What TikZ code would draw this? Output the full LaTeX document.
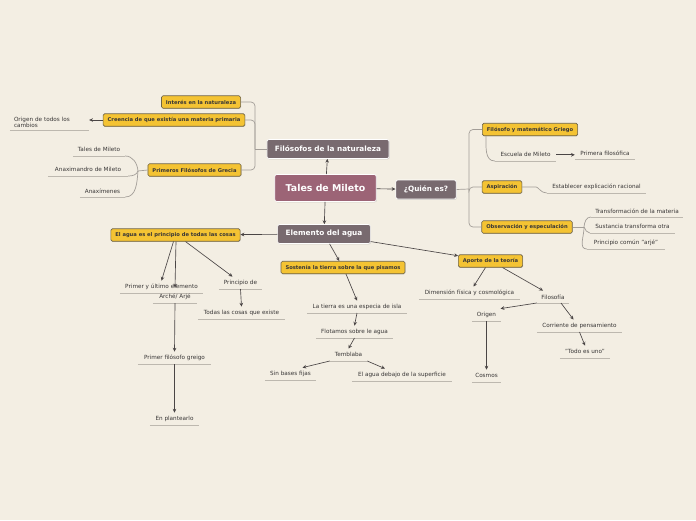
\documentclass[tikz,border=0pt]{standalone}
\usepackage{fontspec}
\setmainfont{DejaVu Sans}
\usetikzlibrary{arrows.meta,shadows}
\definecolor{bgcol}{HTML}{F3EEE3}
\definecolor{yelcol}{HTML}{F4C333}
\definecolor{yeldraw}{HTML}{6E6347}
\definecolor{greycol}{HTML}{786A6F}
\definecolor{rootcol}{HTML}{9C6476}
\definecolor{txtcol}{HTML}{383636}
\definecolor{arrcol}{HTML}{4A4545}
\definecolor{brkcol}{HTML}{A39E98}
\definecolor{ulcol}{HTML}{BDB8AF}
\tikzset{rootbox/.style={draw=white,line width=0.8pt,fill=rootcol,rounded corners=2pt,text=white,inner xsep=11pt,minimum height=27pt,font=\fontsize{9.4}{11}\selectfont\bfseries,drop shadow={shadow xshift=0.6pt,shadow yshift=-0.8pt,opacity=0.3}},topicbox/.style={draw=white,line width=0.7pt,fill=greycol,rounded corners=2pt,text=white,inner xsep=8pt,minimum height=19pt,font=\fontsize{7.3}{8.5}\selectfont\bfseries,drop shadow={shadow xshift=0.6pt,shadow yshift=-0.8pt,opacity=0.3}},subbox/.style={draw=yeldraw,line width=0.6pt,fill=yelcol,rounded corners=1.5pt,text=txtcol,inner xsep=4.5pt,minimum height=12.5pt,font=\fontsize{5.2}{6}\selectfont\bfseries,drop shadow={shadow xshift=0.5pt,shadow yshift=-0.7pt,opacity=0.3}},leaf/.style={font=\fontsize{5.7}{6.6}\selectfont,text=txtcol,inner sep=0pt,minimum height=12pt,anchor=south,append after command={(\tikzlastnode.south west) edge[uline] (\tikzlastnode.south east)}},uline/.style={draw=ulcol,line width=0.9pt},arr/.style={-{Stealth[length=3.8pt,width=3.6pt]},draw=arrcol,line width=0.65pt},brk/.style={draw=brkcol,line width=0.7pt,rounded corners=4pt}}

\begin{document}
\begin{tikzpicture}[x=1pt,y=1pt]
\fill[bgcol] (0,0) rectangle (696,-520);
\useasboundingbox (0,0) rectangle (696,-520);
% central topics
\node[rootbox] (root) at (325.5,-188) {Tales de Mileto};
\node[topicbox] (fil) at (328,-149) {Filósofos de la naturaleza};
\node[topicbox] (qui) at (426,-189.5) {¿Quién es?};
\node[topicbox] (ele) at (324,-234) {Elemento del agua};
\draw[arr] (root) -- (fil);
\draw[arr] (root) -- (qui);
\draw[arr] (root) -- (ele);
% left branch
\node[subbox] (int) at (201,-102) {Interés en la naturaleza};
\node[subbox] (cre) at (174,-120) {Creencia de que existía una materia primaria};
\node[subbox] (pri) at (194.5,-170) {Primeros Filósofos de Grecia};
\coordinate (jl) at (255,-149);
\draw[brk] (fil.west) -- (jl);
\draw[brk] (int.east) -| (jl);
\draw[brk] (cre.east) -| (jl);
\draw[brk] (pri.east) -| (jl);
\node[leaf,minimum width=79pt,text width=71pt,inner xsep=4pt,inner ysep=2pt,align=left] (ori) at (49.5,-130) {Origen de todos los\\cambios};
\draw[arr] (cre.west) -- (cre.west -| ori.east);
\node[leaf,minimum width=52pt] (tal) at (99,-156) {Tales de Mileto};
\node[leaf,minimum width=80pt] (anx) at (88,-176) {Anaximandro de Mileto};
\node[leaf,minimum width=45pt] (anm) at (102.5,-197) {Anaxímenes};
\coordinate (jp) at (138,-171);
\draw[brk] (pri.west) -- (jp);
\draw[brk] (tal.south east) to[out=0,in=95] (jp);
\draw[brk] (anx.south east) to[out=0,in=-110] (jp);
\draw[brk] (anm.south east) to[out=0,in=-95] (jp);
% right branch
\node[subbox] (fmg) at (530,-129.5) {Filósofo y matemático Griego};
\node[subbox] (asp) at (502,-187) {Aspiración};
\node[subbox] (obs) at (527,-227) {Observación y especulación};
\coordinate (jr) at (469,-189);
\draw[brk] (qui.east) -- (jr);
\draw[brk] (fmg.west) -| (jr);
\draw[brk] (asp.west) -| (jr);
\draw[brk] (obs.west) -| (jr);
\node[leaf,minimum width=61pt] (esc) at (525.5,-161) {Escuela de Mileto};
\node[leaf,minimum width=60pt] (pfi) at (605,-159) {Primera filosófica};
\draw[brk] ([xshift=4pt]fmg.south west) to[out=-90,in=180] (esc.south west);
\draw[arr] (esc.east) -- (esc.east -| pfi.west);
\node[leaf,minimum width=99pt] (est) at (596.5,-193) {Establecer explicación racional};
\draw[brk] (asp.east) -- ++(10,0) to[out=0,in=180] (est.south west);
\node[leaf,minimum width=92pt] (tra) at (637,-217) {Transformación de la materia};
\node[leaf,minimum width=85pt] (sus) at (632.5,-233) {Sustancia transforma otra};
\node[leaf,minimum width=78pt] (pcm) at (626,-249) {Principio común "arjé"};
\coordinate (jo) at (584,-227);
\draw[brk] (obs.east) -- (jo);
\draw[brk] (jo) to[out=85,in=180] (tra.south west);
\draw[brk] (jo) to[out=-60,in=180] (sus.south west);
\draw[brk] (jo) to[out=-88,in=180] (pcm.south west);
% water branch
\node[subbox] (agu) at (175.5,-235) {El agua es el principio de todas las cosas};
\node[subbox] (sos) at (343,-267.5) {Sostenía la tierra sobre la que pisamos};
\node[subbox] (apo) at (490.5,-261) {Aporte de la teoría};
\draw[arr] (ele) -- (agu);
\draw[arr] (ele) -- (sos);
\draw[arr] (ele) -- (apo);
\node[leaf,minimum width=83pt] (pue) at (161.5,-293) {Primer y último elemento};
\node[leaf,minimum width=44pt] (arc) at (175,-303) {Arché/ Arjé};
\node[leaf,minimum width=43pt] (pde) at (240.5,-289) {Principio de};
\node[leaf,minimum width=87pt] (tod) at (241.5,-319) {Todas las cosas que existe};
\node[leaf,minimum width=73pt] (pfg) at (174.5,-364) {Primer filósofo greigo};
\node[leaf,minimum width=49pt] (enp) at (174.5,-425) {En plantearlo};
\draw[arr] ([xshift=-2pt]agu.south) -- (pue.north);
\draw[arr] ([xshift=0.5pt]agu.south) -- ([yshift=3pt]arc.north);
\draw[arr] ([xshift=10pt]agu.south) -- ([xshift=-8pt]pde.north);
\draw[arr] (pde.south) -- (tod.north);
\draw[arr] (arc.south) -- (pfg.north);
\draw[arr] (pfg.south) -- (enp.north);
\node[leaf,minimum width=100pt] (tie) at (357,-313) {La tierra es una especia de isla};
\node[leaf,minimum width=77pt] (flo) at (354.5,-338) {Flotamos sobre le agua};
\node[leaf,minimum width=37pt] (tem) at (348.5,-361) {Temblaba};
\node[leaf,minimum width=51pt] (sin) at (290.5,-380) {Sin bases fijas};
\node[leaf,minimum width=100pt] (deb) at (402,-381) {El agua debajo de la superficie};
\draw[arr] ([xshift=3pt]sos.south) -- (tie.north);
\draw[arr] (tie.south) -- (flo.north);
\draw[arr] (flo.south) -- (tem.north);
\draw[arr] (tem.south west) -- ([xshift=12pt]sin.north);
\draw[arr] (tem.south east) -- ([xshift=-17pt]deb.north);
\node[leaf,minimum width=101pt] (dim) at (469.5,-299) {Dimensión física y cosmológica};
\node[leaf,minimum width=32pt] (flf) at (553,-303) {Filosofía};
\node[leaf,minimum width=29pt] (org) at (486.5,-321) {Origen};
\node[leaf,minimum width=29pt] (cos) at (486.5,-382) {Cosmos};
\node[leaf,minimum width=85pt] (cor) at (579.5,-332) {Corriente de pensamiento};
\node[leaf,minimum width=50pt] (tdu) at (585,-358) {"Todo es uno"};
\draw[arr] ([xshift=-5pt]apo.south) -- ([xshift=4pt]dim.north);
\draw[arr] ([xshift=12pt]apo.south) -- ([xshift=-10pt]flf.north);
\draw[arr] (flf.south west) -- ([xshift=14pt]org.north);
\draw[arr] (org.south) -- (cos.north);
\draw[arr] ([xshift=8pt]flf.south) -- ([xshift=-6pt]cor.north);
\draw[arr] (cor.south) -- (tdu.north);
\end{tikzpicture}
\end{document}
